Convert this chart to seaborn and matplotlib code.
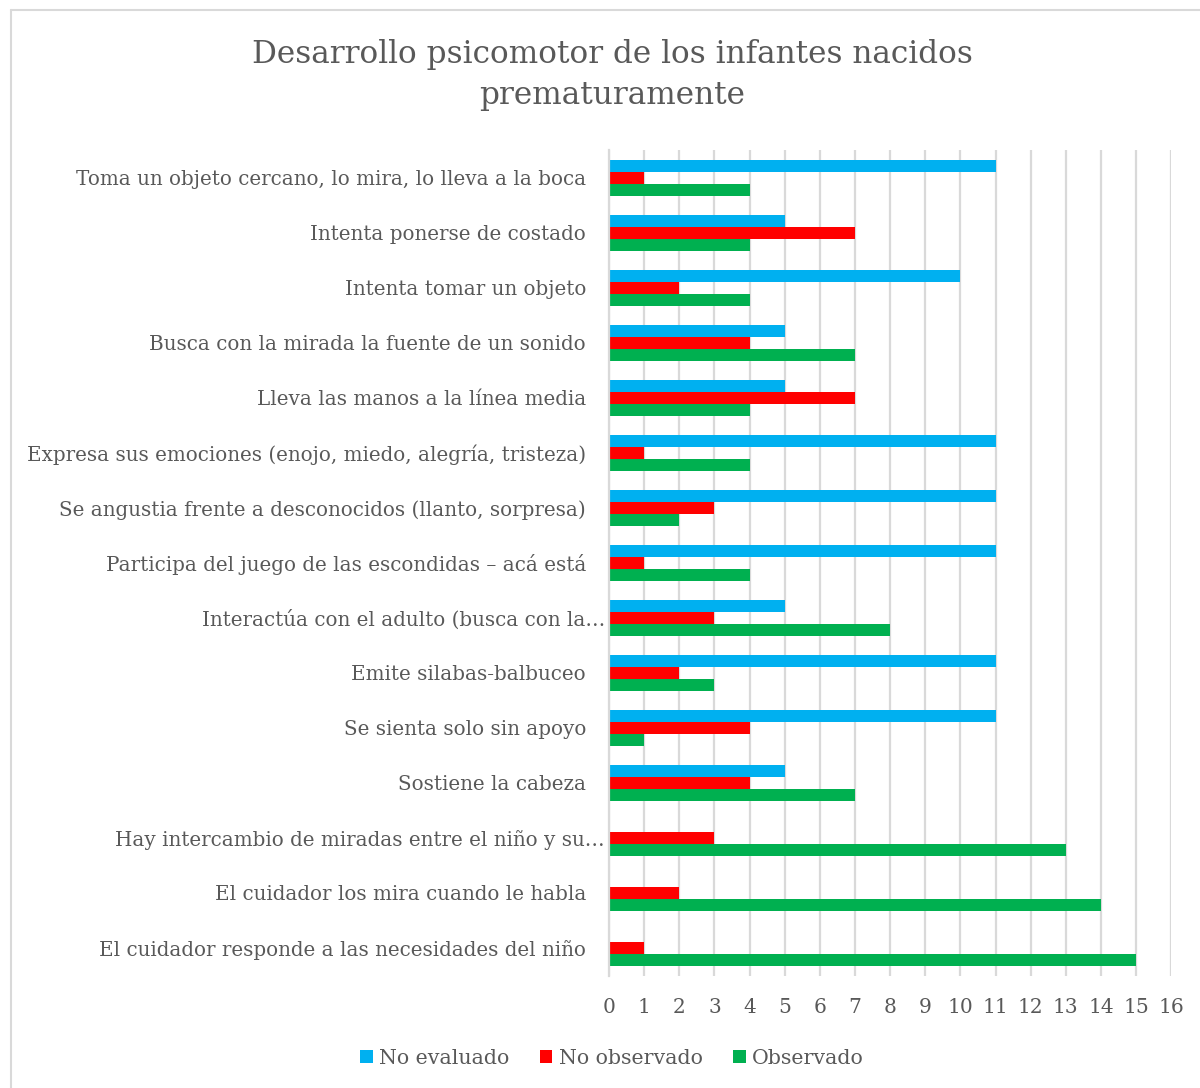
import matplotlib
matplotlib.use("Agg")
import matplotlib.pyplot as plt
import matplotlib.transforms as mtrans
from matplotlib.lines import Line2D
from matplotlib.patches import Patch
import seaborn as sns
import pandas as pd

categories = [
    "Toma un objeto cercano, lo mira, lo lleva a la boca",
    "Intenta ponerse de costado",
    "Intenta tomar un objeto",
    "Busca con la mirada la fuente de un sonido",
    "Lleva las manos a la línea media",
    "Expresa sus emociones (enojo, miedo, alegría, tristeza)",
    "Se angustia frente a desconocidos (llanto, sorpresa)",
    "Participa del juego de las escondidas – acá está",
    "Interactúa con el adulto (busca con la…",
    "Emite silabas-balbuceo",
    "Se sienta solo sin apoyo",
    "Sostiene la cabeza",
    "Hay intercambio de miradas entre el niño y su…",
    "El cuidador los mira cuando le habla",
    "El cuidador responde a las necesidades del niño",
]
no_evaluado = [11, 5, 10, 5, 5, 11, 11, 11, 5, 11, 11, 5, 0, 0, 0]
no_observado = [1, 7, 2, 4, 7, 1, 3, 1, 3, 2, 4, 4, 3, 2, 1]
observado = [4, 4, 4, 7, 4, 4, 2, 4, 8, 3, 1, 7, 13, 14, 15]
series = ["No evaluado", "No observado", "Observado"]
colors = ["#00B0F0", "#FF0000", "#00B050"]
title = "Desarrollo psicomotor de los infantes nacidos\nprematuramente"

rows = []
for s, vals in zip(series, [no_evaluado, no_observado, observado]):
    for c, v in zip(categories, vals):
        rows.append({"cat": c, "serie": s, "valor": v})
df = pd.DataFrame(rows)

sns.set_theme(style="white")
FONT = ["DejaVu Serif"]
plt.rcParams["font.family"] = FONT
TXT = "#595959"

fig = plt.figure(figsize=(12, 10.88), dpi=100)
ax = fig.add_axes([0.5075, 0.1034, 0.976 - 0.5075, 0.8617 - 0.1034])

sns.barplot(data=df, y="cat", x="valor", hue="serie", order=categories,
            hue_order=series, palette=colors, orient="h", width=0.64,
            saturation=1, ax=ax, legend=False, edgecolor="none", linewidth=0)

ax.set_xlim(0, 16)
ax.set_xticks(range(0, 17))
ax.set_ylim(len(categories) - 0.5, -0.5)
ax.set_xlabel("")
ax.set_ylabel("")
ax.grid(axis="x", color="#D9D9D9", linewidth=1.6)
ax.grid(axis="y", visible=False)
ax.set_axisbelow(True)
for sp in ["top", "right", "bottom"]:
    ax.spines[sp].set_visible(False)
ax.spines["left"].set_color("#D9D9D9")
ax.spines["left"].set_linewidth(1.6)

ax.tick_params(axis="y", length=0, pad=16.5, labelsize=14.3, labelcolor=TXT)
ax.tick_params(axis="x", length=0, pad=16, labelsize=14.5, labelcolor=TXT)

for lab in ax.get_yticklabels():
    lab.set_fontfamily(FONT)
    if lab.get_text().endswith("…"):
        lab.set_transform(lab.get_transform() +
                          mtrans.ScaledTranslation(19 / 100, 0, fig.dpi_scale_trans))
for lab in ax.get_xticklabels():
    lab.set_fontfamily(FONT)

fig.text(0.51, 0.931, title, ha="center", va="center", fontsize=22.4,
         color=TXT, family=FONT, linespacing=1.45)

handles = [Patch(facecolor=c, edgecolor="none", label=s) for s, c in zip(series, colors)]
leg = fig.legend(handles=handles, loc="center", bbox_to_anchor=(0.51, 0.027),
                 ncol=3, frameon=False, handlelength=0.6,
                 handleheight=0.6, handletextpad=0.3, columnspacing=1.5,
                 labelcolor=TXT, prop={"family": FONT, "size": 14.8})

fig.add_artist(Line2D([0.009, 0.009], [0, 0.991], transform=fig.transFigure,
                      color="#D9D9D9", linewidth=1.5))
fig.add_artist(Line2D([0.009, 1.0], [0.991, 0.991], transform=fig.transFigure,
                      color="#D9D9D9", linewidth=1.5))

fig.savefig("out.png", dpi=100, facecolor="white")
